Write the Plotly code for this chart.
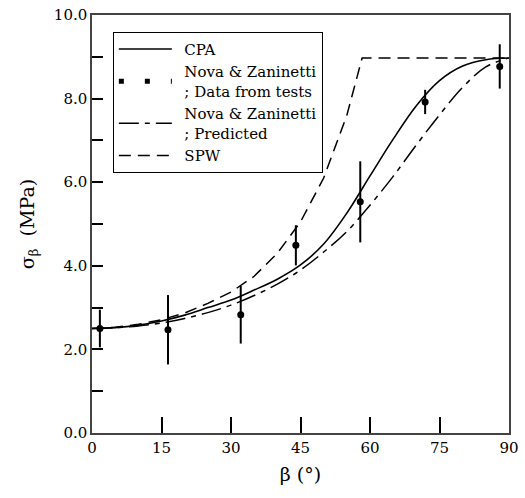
import plotly.graph_objects as go

# ---- data ----
beta_curve = [0, 5, 10, 15, 20, 25, 30, 35, 40, 45, 50, 55, 60, 65, 70, 75, 80, 85, 90]
cpa = [2.50, 2.52, 2.58, 2.68, 2.82, 3.00, 3.18, 3.42, 3.68, 4.02, 4.52, 5.26, 6.15, 7.03, 7.83, 8.43, 8.78, 8.93, 8.97]
nova_pred = [2.50, 2.52, 2.56, 2.63, 2.74, 2.88, 3.06, 3.29, 3.56, 3.90, 4.33, 4.82, 5.45, 6.14, 6.89, 7.61, 8.27, 8.76, 8.97]

beta_spw = [0, 5, 10, 15, 20, 25, 30, 35, 40, 45, 50, 55, 58.3, 90]
spw = [2.50, 2.53, 2.60, 2.71, 2.87, 3.10, 3.37, 3.75, 4.30, 5.05, 6.10, 7.60, 8.97, 8.97]

beta_test = [1.7, 16.4, 32.1, 44.0, 57.9, 71.9, 88.0]
sigma_test = [2.50, 2.47, 2.83, 4.49, 5.53, 7.92, 8.77]
sigma_err = [0.45, 0.83, 0.69, 0.48, 0.97, 0.29, 0.53]

x_ticks = [0, 15, 30, 45, 60, 75, 90]
y_ticks = [0, 2, 4, 6, 8, 10]
y_ticktext = ["0.0", "2.0", "4.0", "6.0", "8.0", "10.0"]

FONT = "DejaVu Serif"
SP = "\u2002"

fig = go.Figure()

fig.add_trace(go.Scatter(
    x=beta_curve, y=cpa, mode="lines", name=SP + "CPA",
    line=dict(color="black", width=1.6, shape="spline", smoothing=1.0),
))
fig.add_trace(go.Scatter(
    x=beta_test, y=sigma_test, mode="markers", showlegend=False,
    marker=dict(color="black", size=7),
    error_y=dict(type="data", array=sigma_err, visible=True, color="black", thickness=2, width=0),
))
# legend entry drawn as three dots
fig.add_trace(go.Scatter(
    x=[None], y=[None], mode="lines",
    name=SP + "Nova & Zaninetti<br>" + SP + "; Data from tests",
    line=dict(color="black", width=5, dash="5px,21px"),
))
fig.add_trace(go.Scatter(
    x=beta_curve, y=nova_pred, mode="lines",
    name=SP + "Nova & Zaninetti<br>" + SP + "; Predicted",
    line=dict(color="black", width=1.5, dash="20px,6px,5px,6px", shape="spline", smoothing=1.0),
))
fig.add_trace(go.Scatter(
    x=beta_spw, y=spw, mode="lines", name=SP + "SPW",
    line=dict(color="black", width=1.5, dash="12px,7px"),
))

fig.update_layout(
    width=525, height=498,
    margin=dict(l=92, r=16, t=15, b=65, autoexpand=False),
    paper_bgcolor="white", plot_bgcolor="white",
    font=dict(family=FONT, size=15, color="black"),
    showlegend=True,
    legend=dict(
        x=0.05, y=0.96, xanchor="left", yanchor="top",
        bordercolor="black", borderwidth=1, bgcolor="white",
        font=dict(family=FONT, size=15, color="black"),
        itemwidth=53, tracegroupgap=0,
    ),
    xaxis=dict(
        range=[0, 90], tickmode="array", tickvals=x_ticks, automargin=False,
        ticks="inside", ticklen=16, tickwidth=1.5, tickcolor="black",
        showline=True, linecolor="#444", linewidth=1.5, mirror=True,
        showgrid=False, zeroline=False, ticklabeloverflow="allow",
        tickfont=dict(family=FONT, size=15),
        title=dict(text="β (°)", font=dict(family=FONT, size=19), standoff=12),
    ),
    yaxis=dict(
        range=[0, 10], tickmode="array", tickvals=y_ticks, ticktext=y_ticktext, automargin=False,
        ticks="inside", ticklen=11, tickwidth=1.5, tickcolor="black",
        minor=dict(tickvals=[1, 3, 5, 7, 9], ticks="inside", ticklen=11, tickwidth=1.5, tickcolor="black"),
        showline=True, linecolor="#444", linewidth=1.5, mirror=True,
        showgrid=False, zeroline=False, ticklabeloverflow="allow",
        tickfont=dict(family=FONT, size=15),
        title=dict(text="σ<sub>β</sub>  (MPa)", font=dict(family=FONT, size=19), standoff=14),
    ),
)

fig.write_html("out.html", config={"displayModeBar": False},
               post_script="document.body.style.margin='0';")
